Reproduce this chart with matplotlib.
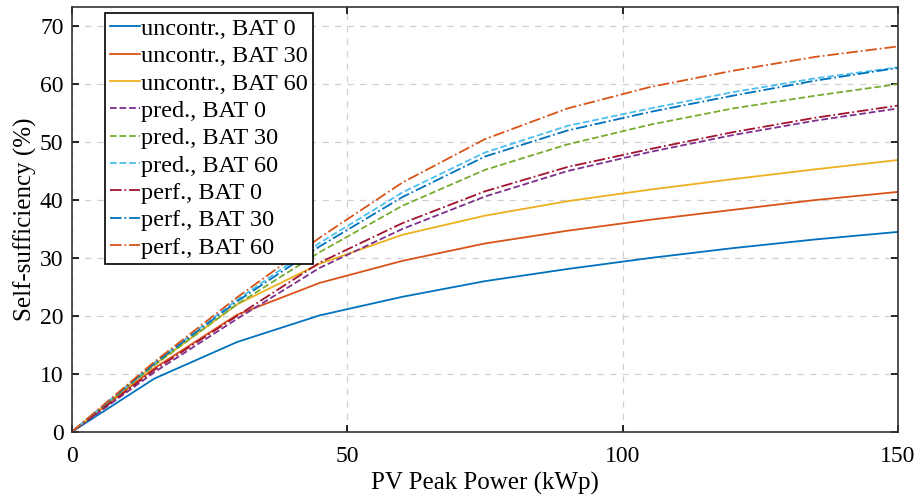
import matplotlib.pyplot as plt

plt.rcParams["font.family"] = ["Liberation Serif", "DejaVu Serif"]

pv_peak = [0, 15, 30, 45, 60, 75, 90, 105, 120, 135, 150]

uncontr_bat0 = [0, 9.2, 15.5, 20.1, 23.3, 26.0, 28.1, 30.0, 31.7, 33.2, 34.5]
uncontr_bat30 = [0, 11.0, 20.2, 25.7, 29.5, 32.5, 34.7, 36.6, 38.3, 40.0, 41.4]
uncontr_bat60 = [0, 11.6, 22.0, 29.0, 34.0, 37.3, 39.8, 41.8, 43.6, 45.3, 46.9]
pred_bat0 = [0, 10.3, 19.5, 28.3, 35.0, 40.6, 45.0, 48.3, 51.2, 53.7, 55.8]
pred_bat30 = [0, 11.5, 22.0, 31.0, 39.0, 45.2, 49.6, 53.0, 55.8, 58.0, 60.0]
pred_bat60 = [0, 11.9, 22.8, 32.6, 41.3, 48.2, 52.8, 55.8, 58.6, 61.0, 62.9]
perf_bat0 = [0, 10.7, 20.0, 29.2, 36.0, 41.5, 45.7, 48.8, 51.7, 54.2, 56.3]
perf_bat30 = [0, 11.8, 22.5, 32.0, 40.5, 47.5, 52.0, 55.2, 58.0, 60.6, 62.8]
perf_bat60 = [0, 12.1, 23.2, 33.5, 43.0, 50.5, 55.8, 59.5, 62.3, 64.7, 66.5]

series = [
    ("uncontr., BAT 0", uncontr_bat0, "#0072BD", "-"),
    ("uncontr., BAT 30", uncontr_bat30, "#D95319", "-"),
    ("uncontr., BAT 60", uncontr_bat60, "#EDB120", "-"),
    ("pred., BAT 0", pred_bat0, "#7E2F8E", "--"),
    ("pred., BAT 30", pred_bat30, "#77AC30", "--"),
    ("pred., BAT 60", pred_bat60, "#4DBEEE", "--"),
    ("perf., BAT 0", perf_bat0, "#A2142F", "-."),
    ("perf., BAT 30", perf_bat30, "#0072BD", "-."),
    ("perf., BAT 60", perf_bat60, "#D95319", "-."),
]

fig = plt.figure(figsize=(9.21, 5.01), dpi=100)
ax = fig.add_axes([0.078, 0.138, 0.897, 0.848])

for label, vals, color, ls in series:
    ax.plot(pv_peak, vals, color=color, linestyle=ls, linewidth=1.3, label=label)

ax.set_xlim(0, 150)
ax.set_ylim(0, 73.3)
ax.set_xticks([0, 50, 100, 150])
ax.set_yticks(range(0, 71, 10))
ax.grid(True, linestyle=(0, (5, 5)), color="#d0d0d0", linewidth=0.9)
ax.tick_params(direction="in", top=True, right=True, labelsize=17, length=5,
               width=1.2, pad=6)
ax.tick_params(axis="x", pad=10)
for sp in ax.spines.values():
    sp.set_linewidth(1.2)
    sp.set_color("#333333")

ax.set_xlabel("PV Peak Power (kWp)", fontsize=18, labelpad=4)
ax.set_ylabel("Self-sufficiency (%)", fontsize=18, labelpad=2)

leg = ax.legend(loc="upper left", bbox_to_anchor=(0.04, 0.986), fontsize=17.5,
                frameon=True, fancybox=False, edgecolor="black", framealpha=1,
                handlelength=1.25, handletextpad=0.05, labelspacing=0.22,
                borderpad=0.2, borderaxespad=0)
leg.get_frame().set_linewidth(1.2)

fig.savefig("out.png", dpi=100)
